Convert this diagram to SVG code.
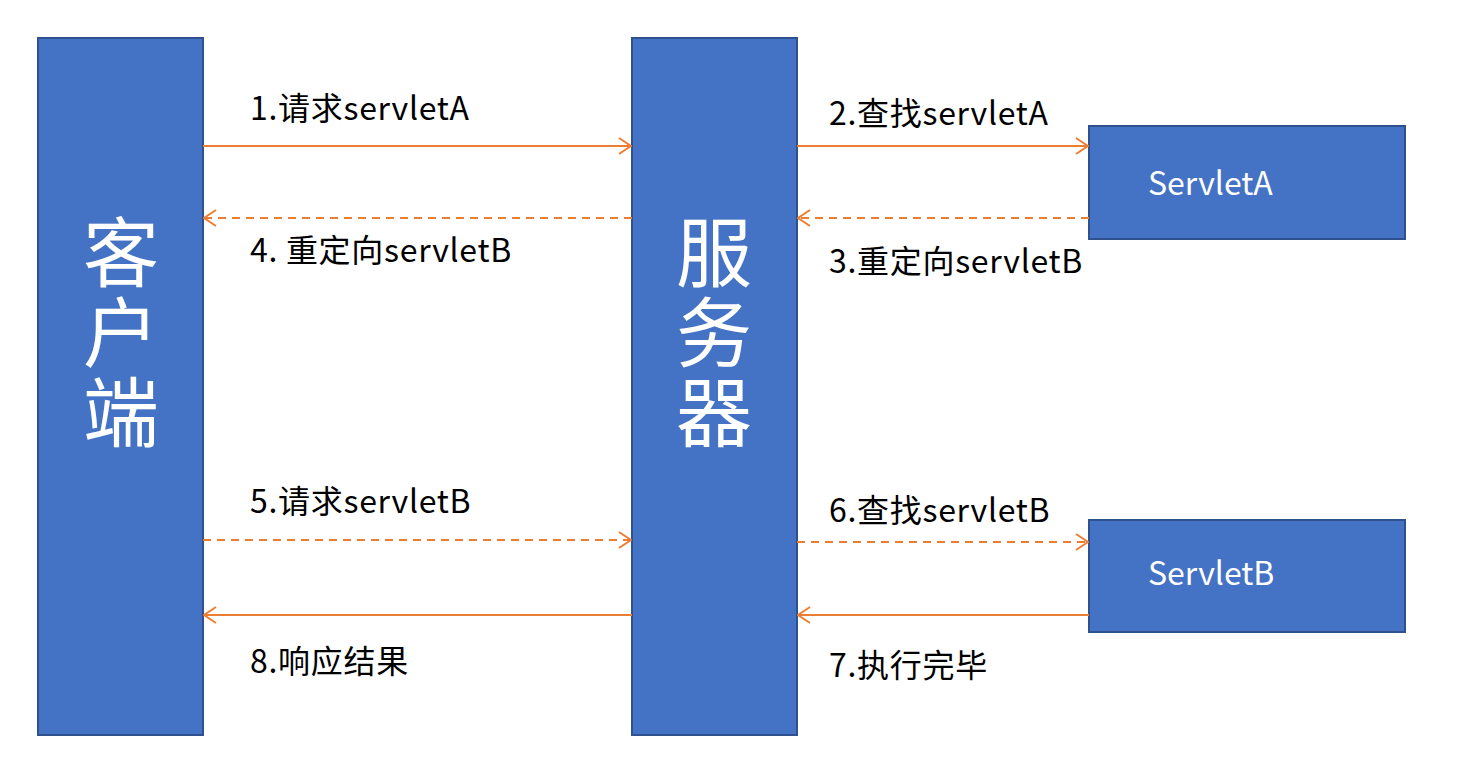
<svg xmlns="http://www.w3.org/2000/svg" width="1469" height="778" viewBox="0 0 1469 778">
<style>
.box{fill:#4472C4;stroke:#2F528F;stroke-width:2}
.big{font-family:"Microsoft YaHei","Noto Sans CJK SC",sans-serif;font-size:76px;fill:#fff;text-anchor:middle}
.lbl{font-family:"Microsoft YaHei","Noto Sans CJK SC",sans-serif;font-size:32px;letter-spacing:0.7px;fill:#000}
.wt{font-family:"Microsoft YaHei","Noto Sans CJK SC",sans-serif;font-size:32px;fill:#fff}
.c{stroke:#ED7D31;stroke-width:2;fill:none}
.d{stroke-dasharray:8 6}
</style>
<defs>
<marker id="ah" viewBox="0 0 14 18" refX="13" refY="9" markerWidth="14" markerHeight="18" markerUnits="userSpaceOnUse" orient="auto">
<path d="M1,1 L13,9 L1,17" fill="none" stroke="#ED7D31" stroke-width="2"/>
</marker>
</defs>
<g id="client"><rect class="box" x="38" y="38" width="165" height="697"/>
<text class="big" x="121" y="281">客</text><text class="big" x="121" y="361">户</text><text class="big" x="121" y="441">端</text></g>
<g id="server"><rect class="box" x="632" y="38" width="165" height="697"/>
<text class="big" x="714" y="281">服</text><text class="big" x="714" y="361">务</text><text class="big" x="714" y="441">器</text></g>
<g id="servletA"><rect class="box" x="1089" y="126" width="316" height="113"/><text class="wt" x="1148" y="195">ServletA</text></g>
<g id="servletB"><rect class="box" x="1089" y="520" width="316" height="112"/><text class="wt" x="1148" y="585">ServletB</text></g>
<g id="connectors">
<line class="c" x1="203" y1="146" x2="631" y2="146" marker-end="url(#ah)"/>
<line class="c" x1="797" y1="146" x2="1088" y2="146" marker-end="url(#ah)"/>
<line class="c d" x1="1089" y1="218" x2="798" y2="218" marker-end="url(#ah)"/>
<line class="c d" x1="632" y1="218" x2="204" y2="218" marker-end="url(#ah)"/>
<line class="c d" x1="203" y1="540" x2="631" y2="540" marker-end="url(#ah)"/>
<line class="c d" x1="797" y1="542" x2="1088" y2="542" marker-end="url(#ah)"/>
<line class="c" x1="1089" y1="615" x2="798" y2="615" marker-end="url(#ah)"/>
<line class="c" x1="632" y1="615" x2="204" y2="615" marker-end="url(#ah)"/>
</g>
<g id="labels">
<text class="lbl" x="250" y="120">1.请求servletA</text>
<text class="lbl" x="829" y="125">2.查找servletA</text>
<text class="lbl" x="829" y="273">3.重定向servletB</text>
<text class="lbl" x="250" y="262">4. 重定向servletB</text>
<text class="lbl" x="250" y="513">5.请求servletB</text>
<text class="lbl" x="829" y="522">6.查找servletB</text>
<text class="lbl" x="829" y="677">7.执行完毕</text>
<text class="lbl" x="250" y="673">8.响应结果</text>
</g>
</svg>
